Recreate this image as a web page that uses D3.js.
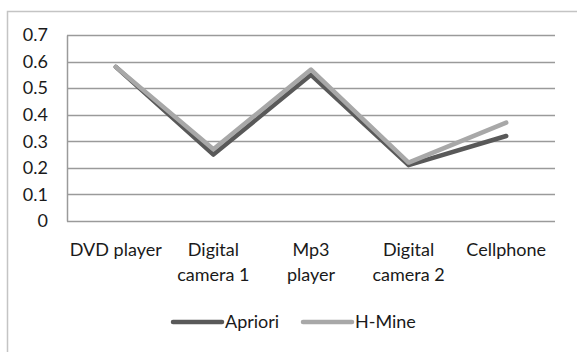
<!DOCTYPE html>
<html><head><meta charset="utf-8">
<script src="https://cdn.jsdelivr.net/npm/d3@7"></script>
<style>
html,body{margin:0;padding:0;background:#fff;}
svg{display:block;}
text{font-family:Lato, "Open Sans", sans-serif;fill:#1a1a1a;}
</style></head>
<body><svg id="c" width="577" height="352"></svg>
<script>
const categories = [["DVD player"], ["Digital", "camera 1"], ["Mp3", "player"], ["Digital", "camera 2"], ["Cellphone"]];
const apriori = [0.58, 0.25, 0.55, 0.21, 0.32];
const hmine = [0.58, 0.27, 0.57, 0.22, 0.37];
const yTicks = [0, 0.1, 0.2, 0.3, 0.4, 0.5, 0.6, 0.7];
const seriesNames = ["Apriori", "H-Mine"];
const seriesColors = ["#595959", "#a8a8a8"];

const W = 577, H = 352;
const plot = {left: 67, right: 555, top: 35, bottom: 221};
const svg = d3.select("#c");
const FS = 18;

// outer chart border
svg.append("rect").attr("x", 7.5).attr("y", 11.5).attr("width", W + 10).attr("height", H + 10)
  .attr("fill", "#fff").attr("stroke", "#c4c4c4").attr("stroke-width", 1.5);

const x = d3.scaleBand().domain(d3.range(categories.length)).range([plot.left, plot.right]);
const y = d3.scaleLinear().domain([0, 0.7]).range([plot.bottom, plot.top]);

// gridlines
svg.append("g").selectAll("line").data(yTicks).join("line")
  .attr("x1", plot.left).attr("x2", plot.right)
  .attr("y1", d => Math.round(y(d)) + 0.5).attr("y2", d => Math.round(y(d)) + 0.5)
  .attr("stroke", "#9a9a9a").attr("stroke-width", 1.5);

// y axis line
svg.append("line").attr("x1", plot.left + 0.5).attr("x2", plot.left + 0.5)
  .attr("y1", Math.round(y(0.7)) + 0.5).attr("y2", Math.round(y(0)) + 0.5)
  .attr("stroke", "#9a9a9a").attr("stroke-width", 1.5);

// y tick labels
const yAxis = d3.axisLeft(y).tickValues(yTicks).tickSize(0).tickPadding(19)
  .tickFormat(d => d === 0 ? "0" : d3.format(".1f")(d));
const gy = svg.append("g").attr("transform", `translate(${plot.left},0)`).call(yAxis);
gy.select(".domain").remove();
gy.selectAll("text").attr("font-size", FS).attr("font-family", "Lato").attr("fill", "#1a1a1a");

// x labels
const xl = svg.append("g").selectAll("text").data(categories).join("text")
  .attr("x", (d, i) => x(i) + x.bandwidth() / 2)
  .attr("y", 256).attr("text-anchor", "middle").attr("font-size", FS);
xl.selectAll("tspan").data(d => d).join("tspan")
  .attr("x", function() { return this.parentNode.getAttribute("x"); })
  .attr("dy", (d, i) => i === 0 ? 0 : 25).text(d => d);

// lines
const line = d3.line().x((d, i) => x(i) + x.bandwidth() / 2).y(d => y(d));
[apriori, hmine].forEach((s, k) => {
  svg.append("path").datum(s).attr("d", line).attr("fill", "none")
    .attr("stroke", seriesColors[k]).attr("stroke-width", 4.5)
    .attr("stroke-linejoin", "round").attr("stroke-linecap", "round");
});

// legend
const legendX = d3.scaleOrdinal().domain(seriesNames).range([173, 303]);
const lg = svg.append("g").selectAll("g").data(seriesNames).join("g")
  .attr("transform", d => `translate(${legendX(d)},322)`);
lg.append("line").attr("x1", 0).attr("x2", 49).attr("y1", 0).attr("y2", 0)
  .attr("stroke", (d, i) => seriesColors[i]).attr("stroke-width", 4.5).attr("stroke-linecap", "round");
lg.append("text").attr("x", 52).attr("y", 6).attr("font-size", FS).text(d => d);
</script></body></html>
